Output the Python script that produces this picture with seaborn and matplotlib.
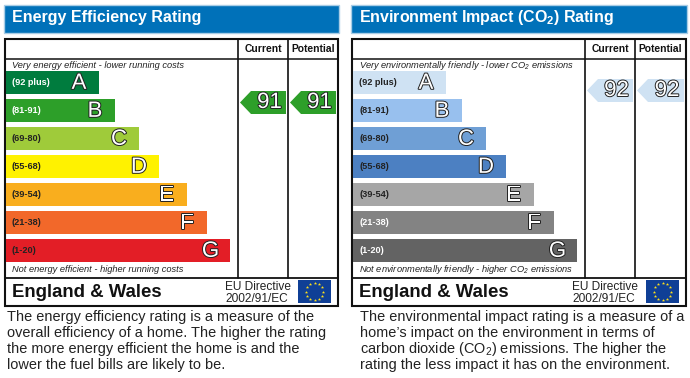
import numpy as np
import pandas as pd
import matplotlib
matplotlib.use("Agg")
import matplotlib.pyplot as plt
import matplotlib.patheffects as pe
from matplotlib.patches import Rectangle, Polygon
import seaborn as sns

bands = ["A", "B", "C", "D", "E", "F", "G"]
ranges = ["(92 plus)", "(81-91)", "(69-80)", "(55-68)", "(39-54)", "(21-38)", "(1-20)"]
energy_len = [93, 109, 133, 153, 181, 201, 223.5]
env_len = [93, 109, 133, 153, 181, 201, 223.5]
energy_cols = ["#007c3e", "#2d9f29", "#9fcb3a", "#fff200", "#f9ae1e", "#f2682a", "#e31e26"]
env_cols = ["#cfe2f3", "#98c0ee", "#6f9fd5", "#4c80c2", "#a6a6a6", "#838383", "#636363"]
energy_lab = ["white", "white", "#222222", "#222222", "#222222", "#222222", "#222222"]
env_lab = ["#222222", "#222222", "#222222", "#222222", "#222222", "white", "white"]
energy_score = [91, 91]
env_score = [92, 92]
energy_title = "Energy Efficiency Rating"
env_title = r"Environment Impact (CO$_2$) Rating"
energy_top = "Very energy efficient - lower running costs"
energy_bot = "Not energy efficient - higher running costs"
env_top = r"Very environmentally friendly - lower CO$_2$ emissions"
env_bot = r"Not environmentally friendly - higher CO$_2$ emissions"
energy_body = ["The energy efficiency rating is a measure of the",
               "overall efficiency of a home. The higher the rating",
               "the more energy efficient the home is and the",
               "lower the fuel bills are likely to be."]
env_body = ["The environmental impact rating is a measure of a",
            "home\u2019s impact on the environment in terms of",
            r"carbon dioxide (CO$_2$) emissions. The higher the",
            "rating the less impact it has on the environment."]

sns.set_theme(style="white")
plt.rcParams["font.family"] = ["Liberation Sans", "DejaVu Sans"]
plt.rcParams["mathtext.default"] = "regular"

W, H = 690, 378
fig = plt.figure(figsize=(W / 100, H / 100), dpi=100, facecolor="white")
bg = fig.add_axes([0, 0, 1, 1])
bg.set_xlim(0, W); bg.set_ylim(H, 0); bg.axis("off")
FRAME = "#111111"

def outlined(ax, x, y, s, size):
    ax.text(x, y, s, fontsize=size, color="white", ha="center", va="center", zorder=6,
            path_effects=[pe.withStroke(linewidth=1.4, foreground="#222222")])

def panel(x0, x1, xa, xb, barx, title, lens, cols, labcols, scores, score_y, score_fill, top, bot, body, bodyx):
    bg.add_patch(Rectangle((x0 - 1, 4.5), x1 - x0 + 2, 28, fc="#0071b9", ec="#a9cde6", lw=1))
    bg.text(x0 + 7, 22, title, color="white", fontsize=11.55, fontweight="bold", va="baseline")
    bg.add_patch(Rectangle((x0, 38.5), x1 - x0, 267, fc="none", ec=FRAME, lw=1.5, zorder=5))
    bg.plot([x0, x1], [58.5, 58.5], color=FRAME, lw=1.1)
    bg.plot([x0, x1], [278, 278], color=FRAME, lw=1.3, zorder=5)
    for xv in (xa, xb):
        bg.plot([xv, xv], [38.5, 278], color=FRAME, lw=1.2)
    bg.text((xa + xb) / 2, 52, "Current", fontsize=7.4, fontweight="bold", ha="center", va="baseline", color="#111111")
    bg.text((xb + x1) / 2, 52, "Potential", fontsize=7.4, fontweight="bold", ha="center", va="baseline", color="#111111")
    bg.text(barx + 6, 67.5, top, fontsize=6.7, style="italic", va="baseline", color="#222222")
    bg.text(barx + 6, 272.5, bot, fontsize=6.7, style="italic", va="baseline", color="#222222")

    ax = fig.add_axes([barx / W, 1 - 264.5 / H, (xa - barx) / W, 196 / H])
    df = pd.DataFrame({"band": bands, "length": lens})
    sns.barplot(data=df, y="band", x="length", hue="band", palette=cols, dodge=False,
                width=0.82, saturation=1, legend=False, linewidth=0, ax=ax)
    ax.set_xlim(0, xa - barx)
    ax.set_ylim(6.5, -0.5)
    ax.axis("off")
    for i, (b, r, l, c) in enumerate(zip(bands, ranges, lens, labcols)):
        ax.text(6, i, r, fontsize=6.6, fontweight="bold", color=c, va="center")
        outlined(ax, l - (19 if b == "G" else 20), i + 0.03, b, 16)

    for xl, xr, v in zip((xa + 2, xb + 2), (xb - 2, x1 - 2), scores):
        yc = score_y
        bg.add_patch(Polygon([(xl, yc), (xl + 11, yc - 11.5), (xr, yc - 11.5), (xr, yc + 11.5), (xl + 11, yc + 11.5)],
                             closed=True, fc=score_fill, ec="none", zorder=3))
        outlined(bg, (xl + xr) / 2 + 6.5, yc, str(v), 16)

    bg.text(x0 + 7, 297, "England & Wales", fontsize=13.4, fontweight="bold", va="baseline", color="#111111")
    bg.text(xa - 13, 290, "EU Directive", fontsize=8.6, va="baseline", color="#222222")
    bg.text(xa - 13, 302, "2002/91/EC", fontsize=8.6, va="baseline", color="#222222")
    fx0, fx1 = x1 - 40, x1 - 7
    bg.add_patch(Rectangle((fx0, 280), fx1 - fx0, 23, fc="#0f3f96", ec="none", zorder=6))
    ang = np.linspace(0, 2 * np.pi, 12, endpoint=False)
    bg.scatter((fx0 + fx1) / 2 + 8.2 * np.cos(ang), 291.5 + 8.2 * np.sin(ang), marker="*", s=6,
               color="#ffe11a", linewidths=0, zorder=7)
    for k, line in enumerate(body):
        bg.text(bodyx, 320.5 + 16 * k, line, fontsize=10.45, va="baseline", color="#222222")

panel(5, 338, 238, 288, 6, energy_title, energy_len, energy_cols, energy_lab, energy_score, 102.5, "#2d9f29",
      energy_top, energy_bot, energy_body, 7)
panel(352, 686, 585, 635, 353, env_title, env_len, env_cols, env_lab, env_score, 90.5, "#cfe2f3",
      env_top, env_bot, env_body, 360)

fig.savefig("out.png", dpi=100, facecolor="white")
